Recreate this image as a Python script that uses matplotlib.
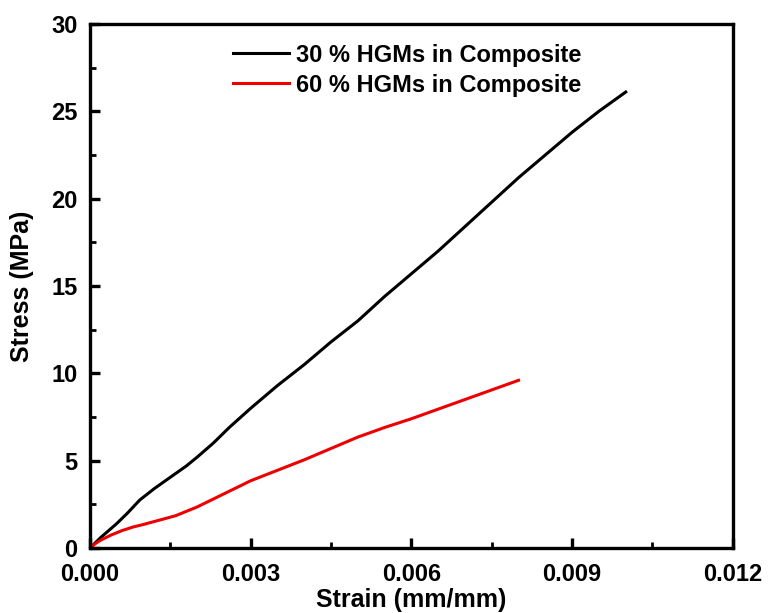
import matplotlib
matplotlib.use("Agg")
import matplotlib.pyplot as plt
from matplotlib.ticker import MultipleLocator, FormatStrFormatter

# values
strain_30 = [0.0, 0.0002, 0.0005, 0.0007, 0.00093, 0.0012, 0.0015, 0.0018, 0.002,
             0.0023, 0.0026, 0.003, 0.0035, 0.004, 0.0045, 0.005, 0.0055, 0.006,
             0.0065, 0.007, 0.0075, 0.008, 0.0085, 0.009, 0.0095, 0.01]
stress_30 = [0.0, 0.6, 1.4, 2.0, 2.75, 3.4, 4.05, 4.7, 5.2,
             6.0, 6.9, 8.0, 9.3, 10.5, 11.8, 13.0, 14.4, 15.7,
             17.0, 18.4, 19.8, 21.2, 22.5, 23.8, 25.0, 26.1]

strain_60 = [0.0, 0.0001, 0.0002, 0.0004, 0.0006, 0.0008, 0.001, 0.0013, 0.0016,
             0.002, 0.0025, 0.003, 0.0035, 0.004, 0.0045, 0.005, 0.0055, 0.006,
             0.0065, 0.007, 0.0075, 0.008]
stress_60 = [0.0, 0.25, 0.45, 0.75, 1.0, 1.2, 1.35, 1.6, 1.85,
             2.35, 3.1, 3.85, 4.45, 5.05, 5.7, 6.35, 6.9, 7.4,
             7.95, 8.5, 9.05, 9.6]

labels = ["30 % HGMs in Composite", "60 % HGMs in Composite"]

plt.rcParams["font.family"] = ["Liberation Sans", "DejaVu Sans"]
plt.rcParams["font.weight"] = "bold"

fig = plt.figure(figsize=(7.69, 6.13), dpi=100)
ax = fig.add_axes([0.117, 0.106, 0.836, 0.855])

ax.plot(strain_30, stress_30, color="black", lw=2.2, label=labels[0])
ax.plot(strain_60, stress_60, color="#ee0000", lw=2.2, label=labels[1])

ax.set_xlim(0, 0.012)
ax.set_ylim(0, 30)
ax.xaxis.set_major_locator(MultipleLocator(0.003))
ax.xaxis.set_minor_locator(MultipleLocator(0.0015))
ax.xaxis.set_major_formatter(FormatStrFormatter("%.3f"))
ax.yaxis.set_major_locator(MultipleLocator(5))
ax.yaxis.set_minor_locator(MultipleLocator(2.5))

for s in ax.spines.values():
    s.set_linewidth(2.4)
ax.tick_params(which="major", direction="in", length=7, width=2.4, labelsize=17)
ax.tick_params(axis="x", which="major", pad=11)
ax.tick_params(axis="y", which="major", pad=9)
ax.tick_params(which="minor", direction="in", length=4, width=2.0)
for lab in ax.get_xticklabels() + ax.get_yticklabels():
    lab.set_fontweight("bold")

ax.set_xlabel("Strain (mm/mm)", fontsize=18, fontweight="bold", labelpad=1)
ax.set_ylabel("Stress (MPa)", fontsize=18, fontweight="bold", labelpad=12)

leg = ax.legend(loc="upper left", bbox_to_anchor=(0.19, 1.003), frameon=False,
                prop={"size": 17, "weight": "bold"}, handlelength=2.35,
                handletextpad=0.3, labelspacing=0.3)

fig.savefig("out.png", dpi=100)
